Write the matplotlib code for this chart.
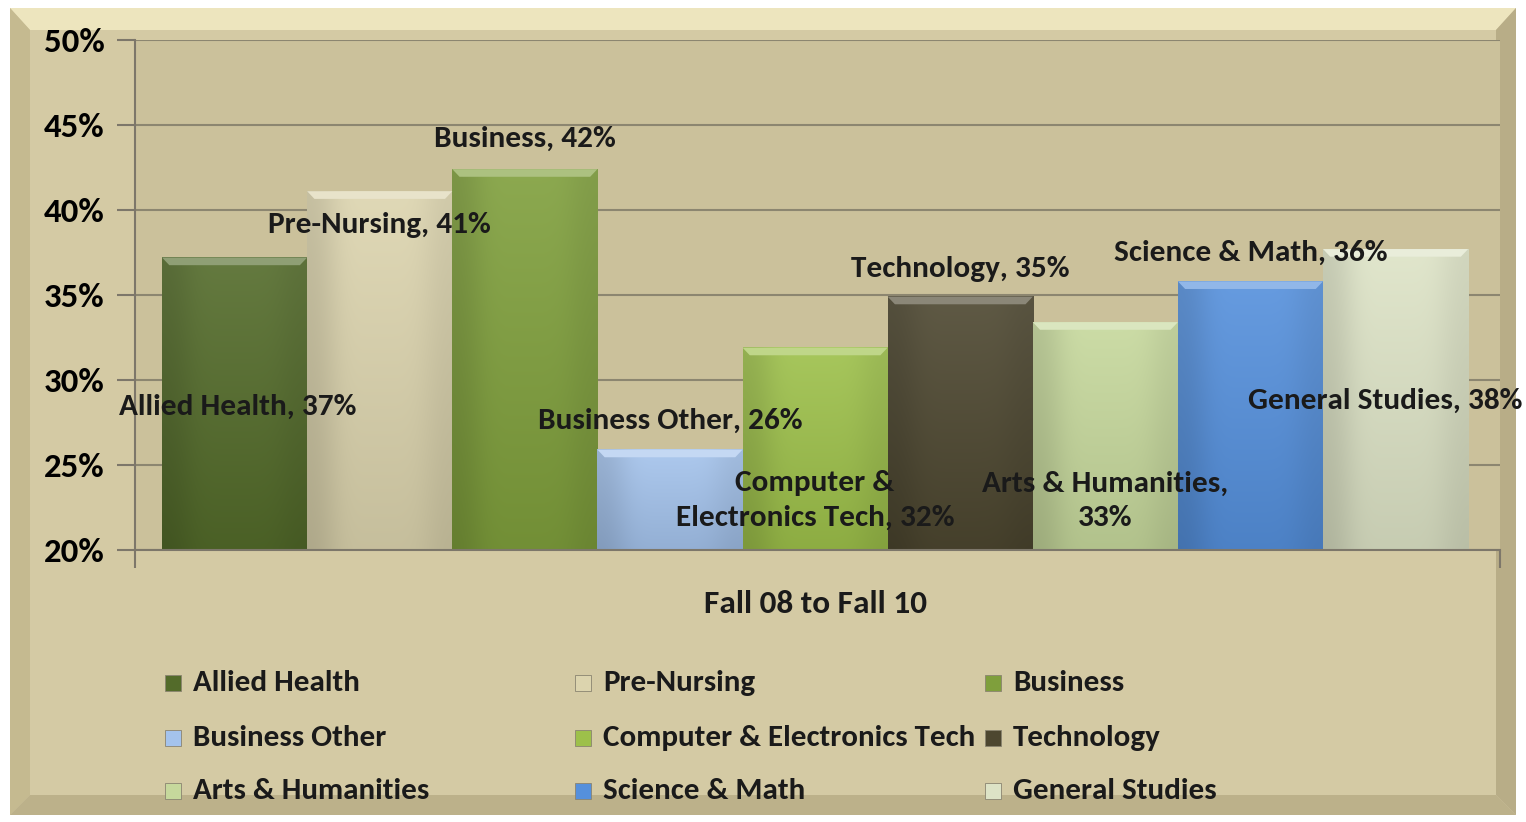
import numpy as np
import matplotlib
matplotlib.use('Agg')
import matplotlib.pyplot as plt
from matplotlib.patches import Rectangle, Polygon
from matplotlib.colors import to_rgb

plt.rcParams['font.family'] = ['Carlito', 'Lato', 'DejaVu Sans']
plt.rcParams['font.weight'] = 'bold'

# Data
programs = ['Allied Health', 'Pre-Nursing', 'Business', 'Business Other',
            'Computer & Electronics Tech', 'Technology', 'Arts & Humanities',
            'Science & Math', 'General Studies']
values = [37.2, 41.1, 42.4, 25.9, 31.9, 34.9, 33.4, 35.8, 37.7]
label_text = ['Allied Health, 37%', 'Pre-Nursing, 41%', 'Business, 42%',
              'Business Other, 26%', 'Computer &\nElectronics Tech, 32%',
              'Technology, 35%', 'Arts & Humanities,\n33%',
              'Science & Math, 36%', 'General Studies, 38%']
category = 'Fall 08 to Fall 10'
yticks = [20, 25, 30, 35, 40, 45, 50]

colors = ['#536b2a', '#dcd4ae', '#7f9f3c', '#a4c3ec', '#9dc04a',
          '#4d4730', '#c6d89c', '#5590dc', '#dde3c6']

# label placement (data coords), layout only
label_x = [0.02, 1.0, 2.0, 3.0, 4.0, 5.0, 6.0, 7.0, 7.93]
label_y = [28.4, 39.1, 44.2, 27.6, 22.9, 36.5, 22.9, 37.5, 28.8]

W, H = 1526, 822
fig = plt.figure(figsize=(W / 100, H / 100), dpi=100)
fig.patch.set_facecolor('white')

# background panel with bevel
bg = fig.add_axes([0, 0, 1, 1], zorder=0)
bg.set_xlim(0, W)
bg.set_ylim(H, 0)
bg.axis('off')
bg.add_patch(Rectangle((10, 8), 1506, 807, fc='#d4caa4', ec='none'))
bg.add_patch(Polygon([(10, 8), (1516, 8), (1496, 30), (30, 30)], fc='#ede5be', ec='none'))
bg.add_patch(Polygon([(10, 8), (30, 30), (30, 795), (10, 815)], fc='#c5ba90', ec='none'))
bg.add_patch(Polygon([(1516, 8), (1496, 30), (1496, 795), (1516, 815)], fc='#b8ad87', ec='none'))
bg.add_patch(Polygon([(10, 815), (30, 795), (1496, 795), (1516, 815)], fc='#bcb18a', ec='none'))

ax = fig.add_axes([0.0885, 0.331, 0.8945, 0.6204], zorder=1)
ax.set_facecolor('#cbc19b')

x = np.arange(len(values))
bars = ax.bar(x, values, width=1.0, color=colors, zorder=2)

# gradient / bevel overlay on each bar
for xi, v, c in zip(x, values, colors):
    rgb = np.array(to_rgb(c))
    t = np.linspace(0, 1, 64)[:, None]
    top = rgb + (1 - rgb) * 0.10
    bot = rgb * 0.9
    grad = top * (1 - t) + bot * t
    hs = np.array([0.88, 1.0, 1.0, 1.0, 1.0, 0.93])
    img = grad[:, None, :] * hs[None, :, None]
    ax.imshow(np.clip(img, 0, 1), extent=(xi - 0.5, xi + 0.5, 20, v),
              aspect='auto', zorder=2.5, interpolation='bicubic')
    hl = rgb + (1 - rgb) * 0.35
    ax.add_patch(Polygon([(xi - 0.5, v), (xi + 0.5, v), (xi + 0.45, v - 0.45),
                          (xi - 0.45, v - 0.45)], fc=hl, ec='none', zorder=2.6))

ax.set_xlim(-0.686, 8.72)
ax.set_ylim(20, 50)
ax.set_yticks(yticks)
ax.set_yticklabels([f'{t}%' for t in yticks], fontsize=25, fontweight='bold')
ax.set_xticks([-0.686, 8.72])
ax.set_xticklabels([])
ax.tick_params(axis='y', length=13, width=1.5, color='#7d776a', pad=9)
ax.tick_params(axis='x', length=13, width=1.5, color='#7d776a')
ax.yaxis.grid(True, color='#8c8670', lw=1.5, zorder=1)
ax.set_axisbelow(True)
for s in ['top', 'right']:
    ax.spines[s].set_visible(False)
for s in ['left', 'bottom']:
    ax.spines[s].set_color('#7d776a')
    ax.spines[s].set_linewidth(1.5)

for lx, ly, txt in zip(label_x, label_y, label_text):
    ax.text(lx, ly, txt, ha='center', va='center', fontsize=22.5,
            fontweight='bold', color='#1a1a1a', zorder=5, linespacing=1.4)

fig.text(816 / W, 1 - 604 / H, category, ha='center', va='center',
         fontsize=24, fontweight='bold', color='#1a1a1a')

# legend, row-major 3 columns
col_x = [165, 575, 985]
row_y = [683, 738, 791]
for i, (name, c) in enumerate(zip(programs, colors)):
    cx = col_x[i % 3]
    cy = row_y[i // 3]
    bg.add_patch(Rectangle((cx, cy - 8), 16, 16, fc=c, ec='#8a8470', lw=0.6, zorder=3))
    bg.text(cx + 28, cy, name, ha='left', va='center', fontsize=22.3,
            fontweight='bold', color='#1a1a1a', zorder=3)

fig.savefig('out.png', dpi=100)
